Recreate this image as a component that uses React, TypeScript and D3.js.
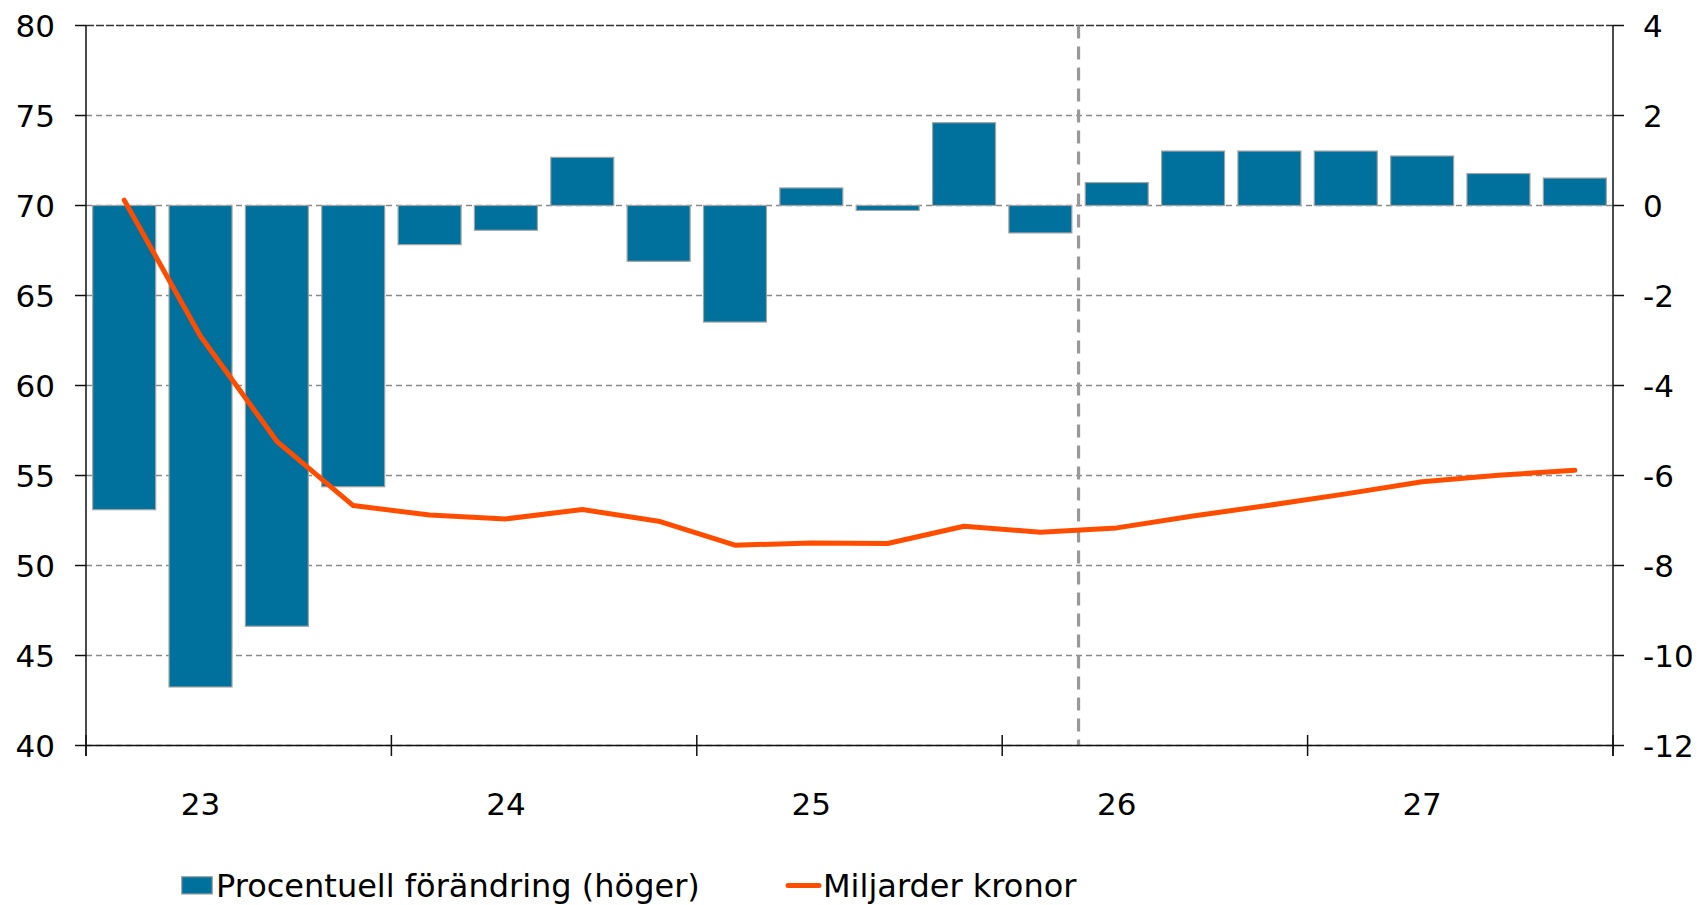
import React from "react";
import * as d3 from "d3";

const quarters = [
  "2023Q1", "2023Q2", "2023Q3", "2023Q4",
  "2024Q1", "2024Q2", "2024Q3", "2024Q4",
  "2025Q1", "2025Q2", "2025Q3", "2025Q4",
  "2026Q1", "2026Q2", "2026Q3", "2026Q4",
  "2027Q1", "2027Q2", "2027Q3", "2027Q4",
];
const yearLabels = ["23", "24", "25", "26", "27"];
const pctChange = [
  -6.76, -10.7, -9.35, -6.25,
  -0.87, -0.55, 1.07, -1.24,
  -2.59, 0.39, -0.11, 1.84,
  -0.61, 0.51, 1.21, 1.21,
  1.21, 1.1, 0.71, 0.61,
];
const billionsSEK = [
  70.3, 62.74, 56.9, 53.33,
  52.8, 52.59, 53.11, 52.46,
  51.13, 51.25, 51.22, 52.18,
  51.85, 52.09, 52.75, 53.35,
  53.98, 54.65, 55.02, 55.29,
];
const leftTicks = [40, 45, 50, 55, 60, 65, 70, 75, 80];
const rightTicks = [-12, -10, -8, -6, -4, -2, 0, 2, 4];
const forecastStart = "2026Q2";
const legendLabels = ["Procentuell förändring (höger)", "Miljarder kronor"];

const W = 1703;
const H = 905;
const L = 86;
const R = 1613;
const T = 25.5;
const B = 745.5;
const FONT = "'DejaVu Sans', Verdana, sans-serif";
const BAR = "#00709c";
const BAR_STROKE = "#a3a3a3";
const LINE = "#ff4d00";
const GRID = "#8a8a8a";

export default function App() {
  const x = d3.scaleBand<string>().domain(quarters).range([L, R]).paddingInner(0.175).paddingOuter(0.0875);
  const step = x.step();
  const yL = d3.scaleLinear().domain([40, 80]).range([B, T]);
  const yR = d3.scaleLinear().domain([-12, 4]).range([B, T]);
  const line = d3
    .line<number>()
    .x((_, i) => (x(quarters[i]) as number) + x.bandwidth() / 2)
    .y((d) => yL(d));
  const stepStart = (q: string) => (x(q) as number) - (x.paddingInner() * step) / 2;
  const yearTickX = [0, 4, 8, 12, 16].map((i) => stepStart(quarters[i])).concat([R]);
  const fcX = stepStart(forecastStart);

  return (
    <svg width={W} height={H} style={{ position: "absolute", left: 0, top: 0, background: "#fff" }} fontFamily={FONT}>
      {/* grid */}
      {leftTicks.map((t) => (
        <line
          key={"g" + t}
          x1={L}
          x2={R}
          y1={yL(t)}
          y2={yL(t)}
          stroke={t === 80 ? "#333" : GRID}
          strokeWidth={1.5}
          strokeDasharray={t === 80 ? "8,2" : "6,4"}
        />
      ))}
      {/* bars */}
      {pctChange.map((v, i) => (
        <rect
          key={"b" + i}
          x={x(quarters[i])}
          y={yR(Math.max(0, v))}
          width={x.bandwidth()}
          height={Math.abs(yR(v) - yR(0))}
          fill={BAR}
          stroke={BAR_STROKE}
          strokeWidth={1.2}
        />
      ))}
      {/* forecast divider */}
      <line x1={fcX} x2={fcX} y1={T} y2={B} stroke="#999" strokeWidth={3.2} strokeDasharray="13,8" />
      {/* line */}
      <path d={line(billionsSEK) || ""} fill="none" stroke={LINE} strokeWidth={5} strokeLinecap="round" strokeLinejoin="round" />
      {/* axes */}
      <line x1={L} x2={L} y1={T} y2={B + 10.5} stroke="#111" strokeWidth={1.5} />
      <line x1={R} x2={R} y1={T} y2={B + 10.5} stroke="#111" strokeWidth={1.5} />
      <line x1={L} x2={R} y1={B} y2={B} stroke="#111" strokeWidth={1.5} />
      {leftTicks.map((t) => (
        <g key={"l" + t}>
          <line x1={L - 11} x2={L} y1={yL(t)} y2={yL(t)} stroke="#111" strokeWidth={1.5} />
          <text x={55} y={yL(t)} dy="0.36em" textAnchor="end" fontSize={31} fill="#000">
            {t}
          </text>
        </g>
      ))}
      {rightTicks.map((t) => (
        <g key={"r" + t}>
          <line x1={R} x2={R + 11} y1={yR(t)} y2={yR(t)} stroke="#111" strokeWidth={1.5} />
          <text x={1643} y={yR(t)} dy="0.36em" textAnchor="start" fontSize={31} fill="#000">
            {t}
          </text>
        </g>
      ))}
      {yearTickX.map((xx, i) => (
        <line key={"xt" + i} x1={xx} x2={xx} y1={B - 10.5} y2={B + 10.5} stroke="#111" strokeWidth={1.5} />
      ))}
      {yearLabels.map((lab, k) => (
        <text
          key={"xl" + k}
          x={(x(quarters[k * 4 + 1]) as number) + x.bandwidth() / 2}
          y={815}
          textAnchor="middle"
          fontSize={31}
          fill="#000"
        >
          {lab}
        </text>
      ))}
      {/* legend */}
      <rect x={181.7} y={876.7} width={30.6} height={17.3} fill={BAR} stroke={BAR_STROKE} strokeWidth={1.2} />
      <text x={216} y={896.5} fontSize={32} fill="#000">
        {legendLabels[0]}
      </text>
      <line x1={788} x2={819} y1={885.5} y2={885.5} stroke={LINE} strokeWidth={5} strokeLinecap="round" />
      <text x={823} y={896.5} fontSize={32} fill="#000">
        {legendLabels[1]}
      </text>
    </svg>
  );
}
